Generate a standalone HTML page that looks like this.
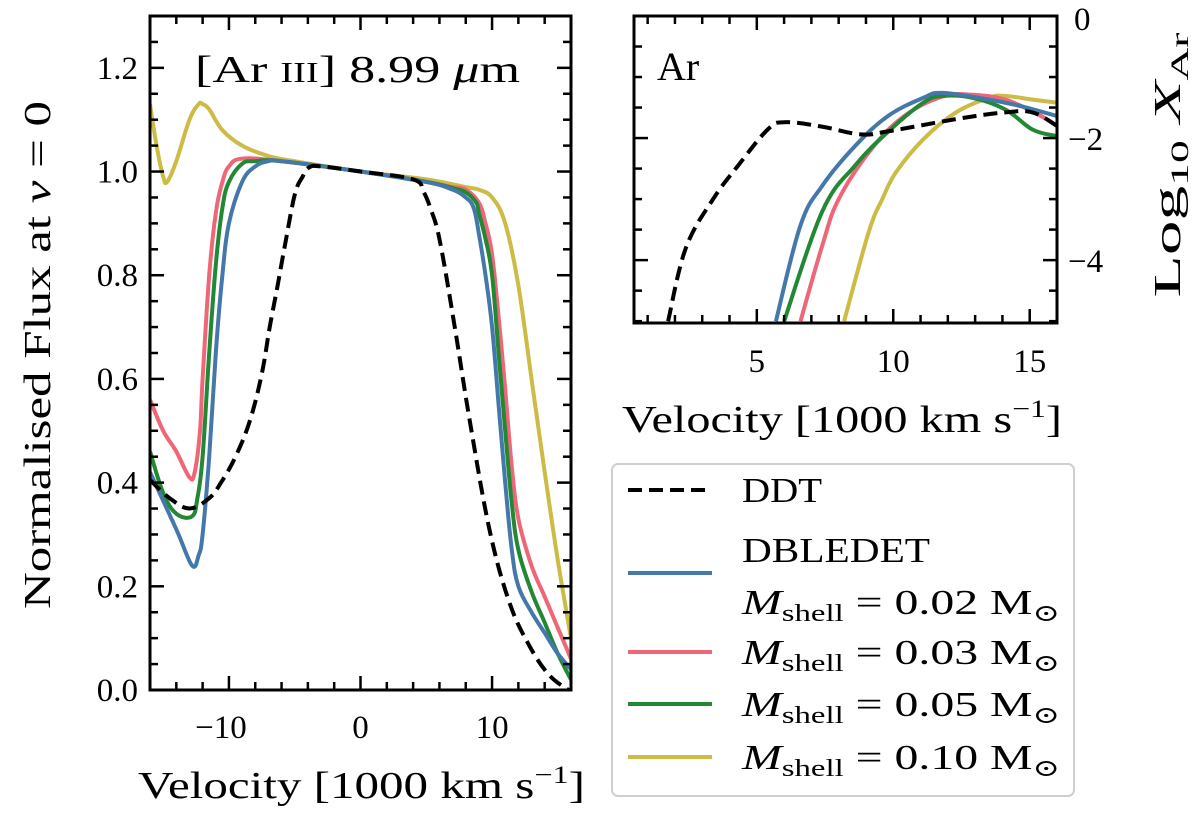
<!DOCTYPE html>
<html><head><meta charset="utf-8">
<style>
html,body{margin:0;padding:0;background:#fff;}
svg{display:block;font-family:"Liberation Serif","DejaVu Serif",serif;}
</style></head>
<body>
<svg id="fig" width="1200" height="814" viewBox="0 0 1200 814" xmlns="http://www.w3.org/2000/svg">
<g id="main"></g>
<g id="inset"></g>
<g id="legend">
  <rect x="612" y="464" width="462" height="332" rx="6" fill="#fff" stroke="#cfcfcf" stroke-width="2"/>
  <g>
    <line x1="628" y1="490" x2="712" y2="490" stroke="#000" stroke-width="4" stroke-dasharray="14,7"/>
    <text x="742" y="502" font-size="35" textLength="80" lengthAdjust="spacingAndGlyphs">DDT</text>
  </g>
  <g>
    <line x1="628" y1="573" x2="712" y2="573" stroke="#4477AA" stroke-width="4"/>
    <text x="742" y="562" font-size="35" textLength="188" lengthAdjust="spacingAndGlyphs">DBLEDET</text>
    <text x="742" y="614" font-size="35" textLength="318" lengthAdjust="spacingAndGlyphs"><tspan font-style="italic">M</tspan><tspan font-size="24" dy="7">shell</tspan><tspan dy="-7"> = 0.02 M</tspan><tspan font-size="24" dy="7">⊙</tspan></text>
  </g>
  <g>
    <line x1="628" y1="652" x2="712" y2="652" stroke="#EE6677" stroke-width="4"/>
    <text x="742" y="664" font-size="35" textLength="318" lengthAdjust="spacingAndGlyphs"><tspan font-style="italic">M</tspan><tspan font-size="24" dy="7">shell</tspan><tspan dy="-7"> = 0.03 M</tspan><tspan font-size="24" dy="7">⊙</tspan></text>
  </g>
  <g>
    <line x1="628" y1="704" x2="712" y2="704" stroke="#228833" stroke-width="4"/>
    <text x="742" y="716" font-size="35" textLength="318" lengthAdjust="spacingAndGlyphs"><tspan font-style="italic">M</tspan><tspan font-size="24" dy="7">shell</tspan><tspan dy="-7"> = 0.05 M</tspan><tspan font-size="24" dy="7">⊙</tspan></text>
  </g>
  <g>
    <line x1="628" y1="757" x2="712" y2="757" stroke="#CCBB44" stroke-width="4"/>
    <text x="742" y="769" font-size="35" textLength="318" lengthAdjust="spacingAndGlyphs"><tspan font-style="italic">M</tspan><tspan font-size="24" dy="7">shell</tspan><tspan dy="-7"> = 0.10 M</tspan><tspan font-size="24" dy="7">⊙</tspan></text>
  </g>
</g>
</svg>
<script>
// ---- main panel data ----
const ddtV = [-16,-14.5,-13,-11.5,-10.6,-9.5,-8.4,-7.5,-6.9,-6.3,-5.8,-5,-4.4,-3.9,-3,0,4,4.8,5.3,6,7.1,8.3,9.8,11.3,12.8,14.3,15.8];
const ddtF = [0.405,0.37,0.35,0.37,0.40,0.45,0.52,0.61,0.70,0.78,0.85,0.955,0.99,1.008,1.01,1.0,0.985,0.96,0.93,0.87,0.71,0.52,0.31,0.17,0.087,0.03,0.0];
const blueV = [-16,-14,-12.8,-12.3,-12,-11.5,-11,-10.5,-10,-9,-8,-7,-6,0,5,7,8,8.6,9,9.5,10,10.5,11,11.5,12,13,14,15,16];
const blueF = [0.42,0.31,0.24,0.26,0.30,0.45,0.65,0.80,0.90,0.98,1.01,1.02,1.02,1.0,0.98,0.965,0.95,0.93,0.88,0.80,0.70,0.55,0.40,0.27,0.20,0.15,0.11,0.07,0.04];
const greenV = [-16,-15,-14,-12.8,-12.4,-12,-11.5,-11,-10.5,-10,-9,-8,-6,0,5,7,8,8.8,9,9.5,10,10.5,11,11.5,12,13,14,15,16];
const greenF = [0.46,0.38,0.34,0.335,0.37,0.45,0.65,0.82,0.93,0.98,1.015,1.02,1.02,1.0,0.98,0.968,0.96,0.94,0.92,0.87,0.80,0.65,0.50,0.36,0.27,0.19,0.13,0.07,0.02];
const redV = [-16,-15,-14,-13,-12.6,-12.2,-12,-11.5,-11,-10.5,-10,-9,-6,0,5,7,8,9,9.5,10,10.5,11,11.5,12,13,14,15,16];
const redF = [0.56,0.50,0.46,0.41,0.42,0.50,0.60,0.80,0.92,0.98,1.01,1.025,1.02,1.0,0.98,0.97,0.965,0.94,0.90,0.84,0.72,0.58,0.43,0.33,0.24,0.18,0.12,0.06];
const yelV = [-16,-15.5,-15,-14.7,-14,-13,-12.3,-12,-11.5,-10.5,-9,-7,-5,0,5,8,9,10,11,12,13,14,15,16];
const yelF = [1.13,1.05,0.99,0.98,1.02,1.10,1.13,1.13,1.12,1.08,1.05,1.03,1.02,1.0,0.985,0.97,0.965,0.95,0.90,0.78,0.60,0.42,0.25,0.10];
const mainXTicks = [-10,0,10];
const mainXTickLabels = ["−10","0","10"];
const mainYTicks = [0,0.2,0.4,0.6,0.8,1.0,1.2];
const mainYTickLabels = ["0.0","0.2","0.4","0.6","0.8","1.0","1.2"];
// ---- inset data ----
const inDdtV = [1.75,2.4,3.4,4.3,5.4,6,7.36,8.8,9.8,12.3,14.1,15.1,16];
const inDdtL = [-5.0,-3.8,-3.0,-2.46,-1.86,-1.74,-1.81,-1.94,-1.89,-1.69,-1.58,-1.58,-1.8];
const inBlueV = [5.7,6.6,7.4,8.6,9.8,11.1,11.8,13.5,14.7,16];
const inBlueL = [-5.0,-3.43,-2.78,-2.13,-1.64,-1.34,-1.26,-1.37,-1.48,-1.64];
const inGreenV = [6.0,7.4,8.6,9.8,11.1,11.8,12.9,14.1,15.1,16];
const inGreenL = [-5.0,-3.2,-2.45,-1.9,-1.42,-1.31,-1.34,-1.53,-1.86,-1.97];
const inRedV = [6.6,7.4,8.0,9.2,10.4,11.8,12.9,14.1,15.3,16];
const inRedL = [-5.0,-3.76,-3.0,-2.18,-1.64,-1.32,-1.29,-1.37,-1.61,-1.8];
const inYelV = [8.2,9.1,9.6,10.1,11.1,12.3,13.5,14.1,15.1,16];
const inYelL = [-5.0,-3.54,-3.0,-2.56,-2.02,-1.58,-1.34,-1.31,-1.37,-1.42];
const inXTicks = [5,10,15];
const inYTicks = [0,-2,-4];
const inYTickLabels = ["0","−2","−4"];

const NS="http://www.w3.org/2000/svg";
function mk(tag, attrs, parent){const e=document.createElementNS(NS,tag);for(const k in attrs)e.setAttribute(k,attrs[k]);parent.appendChild(e);return e;}

const M={l:150,r:571,t:16,b:690,x0:-16,x1:16,y0:0,y1:1.3};
const mx=v=>M.l+(v-M.x0)/(M.x1-M.x0)*(M.r-M.l);
const my=f=>M.b-(f-M.y0)/(M.y1-M.y0)*(M.b-M.t);
const I={l:634,r:1057,t:16,b:323,x0:0.5,x1:16,y0:-5.03,y1:0};
const ix=v=>I.l+(v-I.x0)/(I.x1-I.x0)*(I.r-I.l);
const iy=L=>I.b-(L-I.y0)/(I.y1-I.y0)*(I.b-I.t);

const main=document.getElementById('main');
const inset=document.getElementById('inset');

function series(g,V,Y,sx,sy,color,dash,name,clipId){
  const P=V.map((v,i)=>[sx(v),sy(Y[i])]);
  let d='M'+P[0][0].toFixed(1)+' '+P[0][1].toFixed(1);
  const k=0.18;
  for(let i=0;i<P.length-1;i++){
    const p0=P[Math.max(0,i-1)],p1=P[i],p2=P[i+1],p3=P[Math.min(P.length-1,i+2)];
    const c1=[p1[0]+(p2[0]-p0[0])*k,p1[1]+(p2[1]-p0[1])*k];
    const c2=[p2[0]-(p3[0]-p1[0])*k,p2[1]-(p3[1]-p1[1])*k];
    d+='C'+c1[0].toFixed(1)+' '+c1[1].toFixed(1)+' '+c2[0].toFixed(1)+' '+c2[1].toFixed(1)+' '+p2[0].toFixed(1)+' '+p2[1].toFixed(1);
  }
  const p=mk('path',{d:d,fill:'none',stroke:color,'stroke-width':4,'stroke-linejoin':'round','clip-path':'url(#'+clipId+')'},g);
  if(dash)p.setAttribute('stroke-dasharray',dash);
  
  
}
const defs=mk('defs',{},document.getElementById('fig'));
const c1=mk('clipPath',{id:'cm'},defs);mk('rect',{x:M.l,y:M.t,width:M.r-M.l,height:M.b-M.t},c1);
const c2=mk('clipPath',{id:'ci'},defs);mk('rect',{x:I.l,y:I.t,width:I.r-I.l,height:I.b-I.t},c2);

series(main,yelV,yelF,mx,my,'#CCBB44',null,'line-0.10','cm');
series(main,redV,redF,mx,my,'#EE6677',null,'line-0.03','cm');
series(main,greenV,greenF,mx,my,'#228833',null,'line-0.05','cm');
series(main,blueV,blueF,mx,my,'#4477AA',null,'line-0.02','cm');
series(main,ddtV,ddtF,mx,my,'#000',"14,7",'line-ddt','cm');

series(inset,inYelV,inYelL,ix,iy,'#CCBB44',null,'inset-line-0.10','ci');
series(inset,inRedV,inRedL,ix,iy,'#EE6677',null,'inset-line-0.03','ci');
series(inset,inGreenV,inGreenL,ix,iy,'#228833',null,'inset-line-0.05','ci');
series(inset,inBlueV,inBlueL,ix,iy,'#4477AA',null,'inset-line-0.02','ci');
series(inset,inDdtV,inDdtL,ix,iy,'#000',"14,7",'inset-line-ddt','ci');

const tk=mk('g',{stroke:'#000','stroke-width':2.5},main);
for(let v=-16;v<=16;v+=2){const maj=(v%10===0);const L=maj?14:8;const x=mx(v);
  mk('line',{x1:x,y1:M.b,x2:x,y2:M.b-L},tk);mk('line',{x1:x,y1:M.t,x2:x,y2:M.t+L},tk);}
for(let i=0;i<=26;i++){const f=i*0.05;const maj=(i%4===0);const L=maj?14:8;const y=my(f);
  mk('line',{x1:M.l,y1:y,x2:M.l+L,y2:y},tk);mk('line',{x1:M.r,y1:y,x2:M.r-L,y2:y},tk);}
mk('rect',{x:M.l,y:M.t,width:M.r-M.l,height:M.b-M.t,fill:'none',stroke:'#000','stroke-width':3},main);
mainXTicks.forEach((v,i)=>{const t=mk('text',{x:mx(v)+(v<0?-8:0),y:738,'font-size':33,'text-anchor':'middle'},main);t.textContent=mainXTickLabels[i];
  
  });
mainYTicks.forEach((f,i)=>{const t=mk('text',{x:138,y:my(f)+11,'font-size':33,'text-anchor':'end'},main);t.textContent=mainYTickLabels[i];
  
  });
let t=mk('text',{x:138,y:798,'font-size':38,textLength:447,lengthAdjust:'spacingAndGlyphs'},main);
t.innerHTML='Velocity [1000 km s<tspan font-size="25" dy="-15">−1</tspan><tspan dy="15">]</tspan>';


t=mk('text',{x:0,y:0,'font-size':38,'text-anchor':'middle',textLength:508,lengthAdjust:'spacingAndGlyphs',transform:'translate(50,355) rotate(-90)'},main);
t.innerHTML='Normalised Flux at <tspan font-style="italic">v</tspan> = 0';


t=mk('text',{x:195,y:82,'font-size':38,textLength:325,lengthAdjust:'spacingAndGlyphs'},main);
t.innerHTML='[Ar <tspan font-size="28">III</tspan>] 8.99 <tspan font-style="italic">μ</tspan>m';



const tk2=mk('g',{stroke:'#000','stroke-width':2.5},inset);
for(let v=1;v<=16;v+=1){const maj=(v%5===0);const L=maj?14:8;const x=ix(v);
  mk('line',{x1:x,y1:I.b,x2:x,y2:I.b-L},tk2);mk('line',{x1:x,y1:I.t,x2:x,y2:I.t+L},tk2);}
for(let k=0;k<=10;k++){const L0=-k*0.5;const maj=(k%4===0);const L=maj?14:8;const y=iy(L0);
  mk('line',{x1:I.l,y1:y,x2:I.l+L,y2:y},tk2);mk('line',{x1:I.r,y1:y,x2:I.r-L,y2:y},tk2);}
mk('rect',{x:I.l,y:I.t,width:I.r-I.l,height:I.b-I.t,fill:'none',stroke:'#000','stroke-width':3},inset);
inXTicks.forEach(v=>{const tt=mk('text',{x:ix(v),y:372,'font-size':33,'text-anchor':'middle'},inset);tt.textContent=String(v);
  
  });
inYTicks.forEach((v,i)=>{const tt=mk('text',{x:v===0?1074:1068,y:iy(v)+(v===0?14:12),'font-size':33,'text-anchor':'start'},inset);tt.textContent=inYTickLabels[i];
  
  });
t=mk('text',{x:622,y:432,'font-size':38,textLength:440,lengthAdjust:'spacingAndGlyphs'},inset);
t.innerHTML='Velocity [1000 km s<tspan font-size="25" dy="-15">−1</tspan><tspan dy="15">]</tspan>';


t=mk('text',{x:0,y:0,'font-size':38,'text-anchor':'middle',textLength:265,lengthAdjust:'spacingAndGlyphs',transform:'translate(1180,165) rotate(-90)'},inset);
t.innerHTML='Log<tspan font-size="25" dy="8">10</tspan><tspan dy="-8"> </tspan><tspan font-style="italic">X</tspan><tspan font-size="25" dy="8">Ar</tspan>';


t=mk('text',{x:657,y:80,'font-size':40},inset);
t.textContent='Ar';


</script>
</body></html>
